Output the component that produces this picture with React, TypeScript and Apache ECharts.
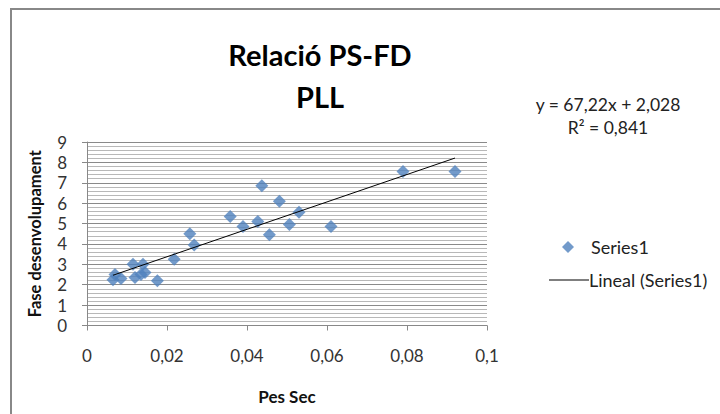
import React, { useEffect, useRef } from "react";
import * as echarts from "echarts";

const pesSec = [0.0065, 0.007, 0.0085, 0.0115, 0.012, 0.0135, 0.014, 0.0145, 0.0176, 0.0218, 0.0257, 0.0268, 0.0358, 0.039, 0.0427, 0.0437, 0.0456, 0.0481, 0.0506, 0.053, 0.061, 0.079, 0.092];
const fase = [2.25, 2.5, 2.3, 3.0, 2.35, 2.5, 3.0, 2.6, 2.2, 3.25, 4.5, 3.95, 5.35, 4.85, 5.1, 6.85, 4.45, 6.1, 4.95, 5.55, 4.85, 7.55, 7.55];
const trendSlope = 67.22;
const trendIntercept = 2.028;
const equationText = "y = 67,22x + 2,028";
const r2Text = "R² = 0,841";
const titleLines = ["Relació PS-FD", "PLL"];
const xName = "Pes Sec";
const yName = "Fase desenvolupament";
const seriesName = "Series1";
const trendName = "Lineal (Series1)";

const FONT = "Lato, 'Open Sans', sans-serif";

export default function App() {
  const ref = useRef<HTMLDivElement>(null);
  useEffect(() => {
    if (!ref.current) return;
    const chart = echarts.init(ref.current, undefined, { renderer: "svg" });
    const xMin = Math.min(...pesSec);
    const xMax = Math.max(...pesSec);
    const trendData = [
      [xMin, trendSlope * xMin + trendIntercept],
      [xMax, trendSlope * xMax + trendIntercept],
    ];
    chart.setOption({
      animation: false,
      backgroundColor: "#fff",
      textStyle: { fontFamily: FONT },
      grid: { left: 87, right: 233, top: 142, bottom: 88.5, containLabel: false },
      legend: [
        {
          data: [{ name: seriesName, icon: "diamond" }],
          left: 557,
          top: 233,
          orient: "vertical",
          itemWidth: 12,
          itemHeight: 12,
          textStyle: { fontSize: 18, color: "#222", fontFamily: FONT, padding: [0, 0, 0, 12] },
        },
        {
          data: [{ name: trendName, icon: "rect", itemStyle: { color: "#000" } }],
          left: 544,
          top: 266,
          orient: "vertical",
          itemWidth: 40,
          itemHeight: 1,
          textStyle: { fontSize: 18, color: "#222", fontFamily: FONT, padding: [0, 0, 0, -5] },
        },
      ],
      xAxis: {
        type: "value",
        min: 0,
        max: 0.1,
        interval: 0.02,
        name: xName,
        nameLocation: "middle",
        nameGap: 62,
        nameTextStyle: { fontSize: 17, fontWeight: "bold", color: "#111", fontFamily: FONT },
        axisLine: { show: true, onZero: false, lineStyle: { color: "#888" } },
        axisTick: { show: true, length: 5, lineStyle: { color: "#888" } },
        axisLabel: {
          fontSize: 17,
          color: "#333",
          margin: 21,
          fontFamily: FONT,
          formatter: (v: number) => String(Number(v.toFixed(4))).replace(".", ","),
        },
        splitLine: { show: false },
      },
      yAxis: {
        type: "value",
        min: 0,
        max: 9,
        interval: 1,
        name: yName,
        nameLocation: "middle",
        nameGap: 44,
        nameTextStyle: { fontSize: 16.5, fontWeight: "bold", color: "#111", fontFamily: FONT },
        axisLine: { show: true, lineStyle: { color: "#888" } },
        axisTick: { show: true, length: 5, lineStyle: { color: "#888" } },
        axisLabel: { fontSize: 17, color: "#333", margin: 20, fontFamily: FONT },
        splitLine: { show: true, lineStyle: { color: "#8a8a8a", width: 1 } },
        minorTick: { show: false, splitNumber: 5 },
        minorSplitLine: { show: true, lineStyle: { color: "#b8b8b8", width: 1 } },
      },
      series: [
        {
          name: seriesName,
          type: "scatter",
          symbol: "diamond",
          symbolSize: 13,
          itemStyle: { color: "#4F81BD" },
          data: pesSec.map((x, i) => [x, fase[i]]),
          z: 3,
        },
        {
          name: trendName,
          type: "line",
          symbol: "none",
          lineStyle: { color: "#000", width: 1 },
          itemStyle: { color: "#000" },
          data: trendData,
          z: 4,
        },
      ],
      graphic: [
        {
          type: "rect",
          shape: { x: 11, y: 9, width: 900, height: 600 },
          style: { fill: "none", stroke: "#888", lineWidth: 2 },
          silent: true,
        },
        {
          type: "text",
          x: 320,
          y: 33,
          style: {
            text: titleLines.join("\n"),
            font: `bold 29px ${FONT}`,
            lineHeight: 42,
            fill: "#000",
            align: "center",
            verticalAlign: "top",
          },
        },
        {
          type: "text",
          x: 608,
          y: 116,
          style: {
            text: equationText + "\n" + r2Text,
            font: `17.5px ${FONT}`,
            lineHeight: 23,
            fill: "#222",
            align: "center",
            verticalAlign: "middle",
          },
        },
      ],
    });
    return () => chart.dispose();
  }, []);
  return <div ref={ref} style={{ position: "fixed", left: 0, top: 0, width: 720, height: 414 }} />;
}
